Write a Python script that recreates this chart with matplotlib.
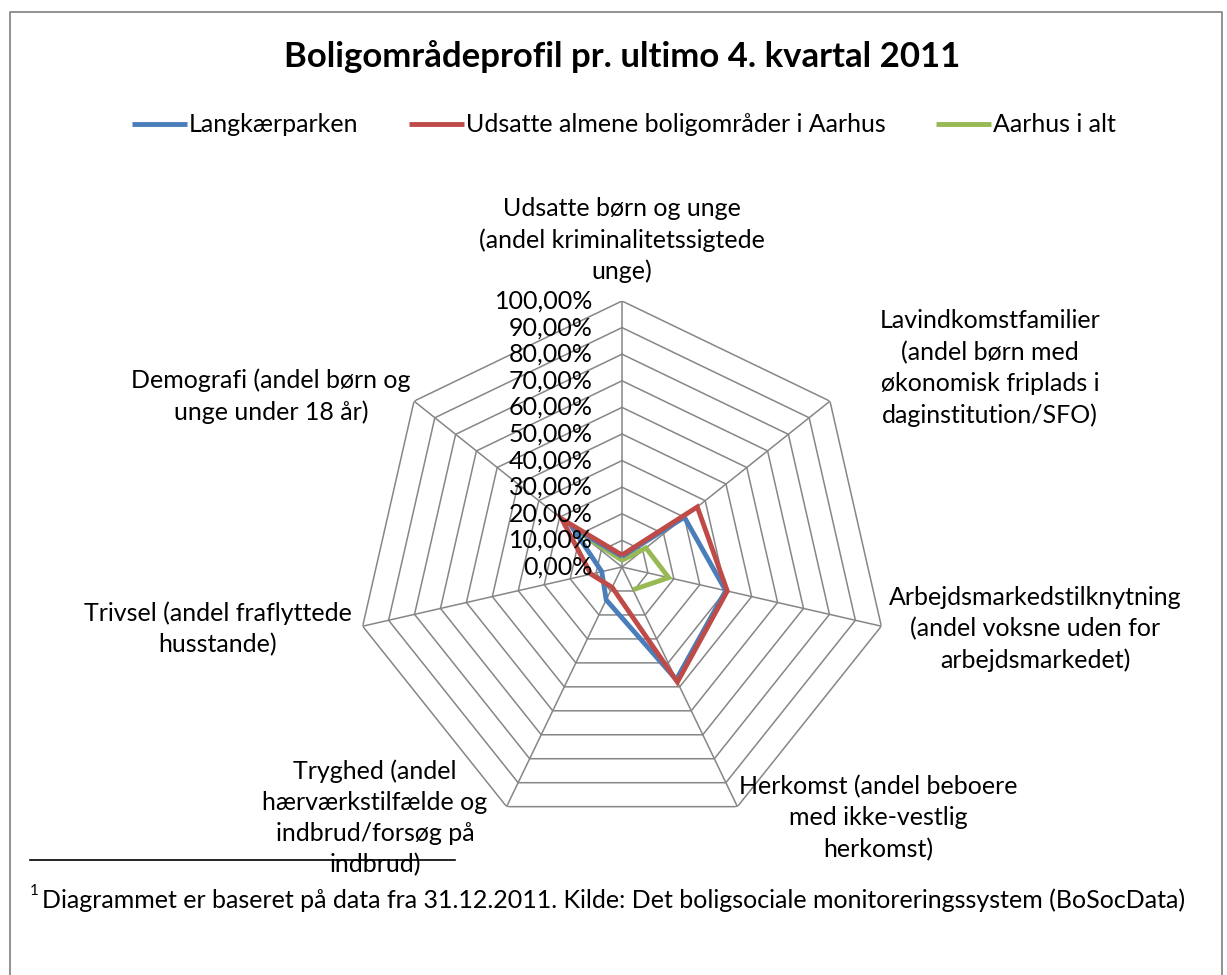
import numpy as np
import matplotlib
matplotlib.use("Agg")
import matplotlib.pyplot as plt
from matplotlib.lines import Line2D
import matplotlib.transforms as mtransforms

plt.rcParams['font.family'] = ['Lato', 'DejaVu Sans']

# ---------------- data ----------------
categories = [
    "Udsatte børn og unge\n(andel kriminalitetssigtede\nunge)",
    "Lavindkomstfamilier\n(andel børn med\nøkonomisk friplads i\ndaginstitution/SFO)",
    "Arbejdsmarkedstilknytning\n(andel voksne uden for\narbejdsmarkedet)",
    "Herkomst (andel beboere\nmed ikke-vestlig\nherkomst)",
    "Tryghed (andel\nhærværkstilfælde og\nindbrud/forsøg på\nindbrud)",
    "Trivsel (andel fraflyttede\nhusstande)",
    "Demografi (andel børn og\nunge under 18 år)",
]
series_names = ["Langkærparken", "Udsatte almene boligområder i Aarhus", "Aarhus i alt"]
langkaerparken = [0.040, 0.300, 0.400, 0.470, 0.137, 0.078, 0.240]
udsatte = [0.045, 0.362, 0.406, 0.480, 0.085, 0.120, 0.290]
aarhus = [0.025, 0.115, 0.180, 0.095, np.nan, np.nan, 0.230]
tick_values = [0.0, 0.1, 0.2, 0.3, 0.4, 0.5, 0.6, 0.7, 0.8, 0.9, 1.0]
tick_labels = ["0,00%", "10,00%", "20,00%", "30,00%", "40,00%", "50,00%",
               "60,00%", "70,00%", "80,00%", "90,00%", "100,00%"]
title = "Boligområdeprofil pr. ultimo 4. kvartal 2011"
footnote = "Diagrammet er baseret på data fra 31.12.2011. Kilde: Det boligsociale monitoreringssystem (BoSocData)"

colors = ["#4A7EBB", "#BE4B48", "#98B954"]
grid_color = "#868686"
FS = 18

W, H = 1227, 975
fig = plt.figure(figsize=(W / 100, H / 100), dpi=100)
fig.patch.set_facecolor("white")

def fx(px):
    return px / W

def fy(py):
    return 1 - py / H

# polar axes positioned so that centre ~ (622, 567) px and radius ~266 px
cx, cy, R = 622, 567, 266
ax = fig.add_axes([fx(cx - R), fy(cy + R), 2 * R / W, 2 * R / H], projection="polar")
ax.set_theta_zero_location("N")
ax.set_theta_direction(-1)
ax.set_ylim(0, 1)
ax.axis("off")

n = len(categories)
theta = np.linspace(0, 2 * np.pi, n, endpoint=False)
theta_c = np.append(theta, theta[0])

# grid rings (heptagons) and spokes
for r in tick_values[1:]:
    ax.plot(theta_c, [r] * (n + 1), color=grid_color, lw=1.1, zorder=1)
for t in theta:
    ax.plot([t, t], [0, 1], color=grid_color, lw=1.1, zorder=1)

# series
data = [langkaerparken, udsatte, aarhus]
zorders = [4, 5, 3]
handles = []
for vals, col, name, z in zip(data, colors, series_names, zorders):
    v = np.append(vals, vals[0])
    ln, = ax.plot(theta_c, v, color=col, lw=3.5, zorder=z,
                  solid_joinstyle="miter", solid_capstyle="butt", label=name)
    handles.append(ln)

# radial tick labels along the top axis
off = mtransforms.offset_copy(ax.transData, fig=fig, x=-29, y=0, units="dots")
for val, lab in zip(tick_values, tick_labels):
    ax.text(0, val, lab, transform=off, ha="right", va="center",
            fontsize=FS, color="black", zorder=6)

# category labels
label_pos = [(622, 240), (990, 368), (1035, 629), (878, 818),
             (375, 818), (218, 629), (271, 396)]
for lab, (px, py) in zip(categories, label_pos):
    fig.text(fx(px), fy(py), lab, ha="center", va="center",
             fontsize=FS, linespacing=1.42, color="black")

# title
fig.text(fx(622), fy(57), title, ha="center", va="center",
         fontsize=25, fontweight="bold", color="black")

# legend
fig.legend(handles, series_names, loc="center",
           bbox_to_anchor=(fx(624), fy(125)), ncol=3, frameon=False,
           fontsize=FS, handlelength=2.2, handletextpad=0.1,
           columnspacing=2.0, borderaxespad=0)

# footnote separator and footnote
fig.add_artist(Line2D([fx(30), fx(455)], [fy(860), fy(860)],
                      transform=fig.transFigure, color="black", lw=1.2))
fig.text(fx(30), fy(891), "1", ha="left", va="center", fontsize=11)
fig.text(fx(42), fy(900), footnote, ha="left", va="center", fontsize=FS)

# chart border
fig.add_artist(Line2D([fx(10), fx(10), fx(1222), fx(1222)],
                      [0, fy(12), fy(12), 0],
                      transform=fig.transFigure, color="#898989", lw=1.3))

fig.savefig("out.png", dpi=100, facecolor="white")
